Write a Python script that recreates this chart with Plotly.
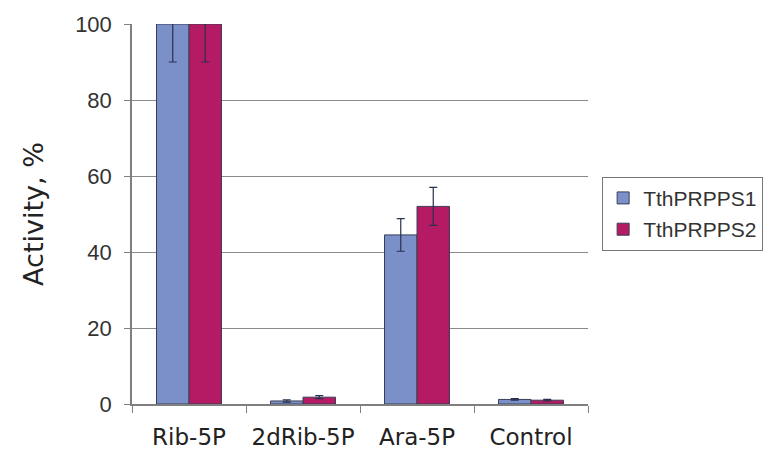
import plotly.graph_objects as go

categories = ["Rib-5P", "2dRib-5P", "Ara-5P", "Control"]
s1_name = "TthPRPPS1"
s2_name = "TthPRPPS2"
s1_values = [100, 0.8, 44.5, 1.2]
s2_values = [100, 1.8, 52, 1.0]
s1_err = [10, 0.3, 4.3, 0.2]
s2_err = [10, 0.4, 5.0, 0.2]
y_ticks = [0, 20, 40, 60, 80, 100]

fig = go.Figure()
fig.add_trace(go.Bar(
    x=categories, y=s1_values, name=s1_name, legendgroup="a",
    marker=dict(color="#7b8fc8", line=dict(color="#3a3f55", width=1)),
    error_y=dict(type="data", array=s1_err, color="#2a3050", thickness=1.2, width=4),
))
fig.add_trace(go.Bar(
    x=categories, y=s2_values, name=s2_name, legendgroup="b",
    marker=dict(color="#b51a64", line=dict(color="#3a3f55", width=1)),
    error_y=dict(type="data", array=s2_err, color="#2a3050", thickness=1.2, width=4),
))

fig.update_layout(
    width=772, height=457,
    margin=dict(l=124, r=192, t=16, b=61, autoexpand=False),
    paper_bgcolor="white", plot_bgcolor="white",
    barmode="group", bargap=0.43, bargroupgap=0,
    showlegend=True,
    legend=dict(
        x=1.031, y=0.598, xanchor="left", yanchor="top",
        bordercolor="#777777", borderwidth=1,
        font=dict(family="Liberation Sans, Arial", size=21, color="#333333"),
        tracegroupgap=1, entrywidth=132,
    ),
    xaxis=dict(
        automargin=False,
        showline=True, linecolor="#7f7f7f", linewidth=1.5,
        ticks="outside", tickson="boundaries", ticklen=7, tickcolor="#7f7f7f",
        tickfont=dict(family="DejaVu Sans", size=23, color="#222222"),
        tickangle=0,
        ticklabelstandoff=12,
        showgrid=False,
    ),
    yaxis=dict(
        automargin=False,
        range=[0, 100], tickvals=y_ticks,
        showline=True, linecolor="#7f7f7f", linewidth=1.5,
        ticks="outside", ticklen=6, tickcolor="#7f7f7f",
        tickfont=dict(family="Liberation Sans, Arial", size=22, color="#333333"),
        ticklabelstandoff=8,
        showgrid=True, gridcolor="#8a8a8a", gridwidth=1,
        title=dict(text="Activity, %", font=dict(family="DejaVu Sans", size=27, color="#222222"), standoff=24),
        zeroline=False,
    ),
)

fig.write_html("out.html")
